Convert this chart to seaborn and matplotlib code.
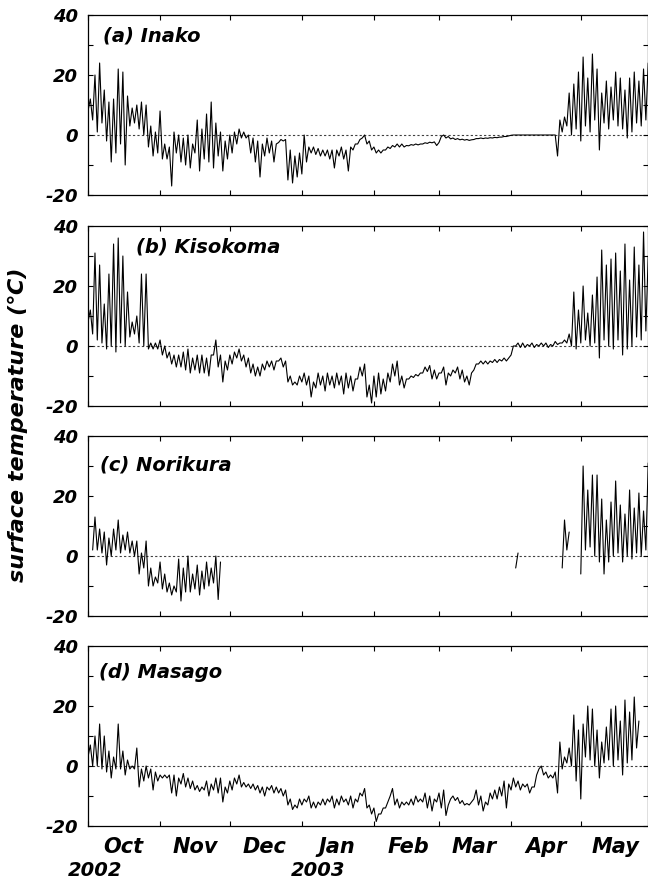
import numpy as np
import pandas as pd
import matplotlib
matplotlib.use("Agg")
import matplotlib.pyplot as plt
import matplotlib.dates as mdates
import matplotlib.transforms as mtrans
from matplotlib.ticker import NullFormatter
import seaborn as sns

nan = float("nan")

# one (high, low) pair every two days, starting 1 Oct 2002
start = pd.Timestamp("2002-10-01")
step_days = 2

inako_hi = [12, 20, 24, 15, 11, 12, 22, 21, 13, 9, 10, 11, 10, 3, 1, 8, -3, -4, 1, 0,
            -1, 0, -3, 5, 2, 7, 11, 4, 1, -2, 0, 1, 2, 1, 0, -1, -2, -3, -1, -2,
            -3, -1.5, -1.5, -5, -7, -6, 0, -4, -4, -4.5, -5, -5, -5, -5, -4, -5, -4, -3, -1.5, 0,
            -2, -4, -5, -5, -4, -3.5, -3, -3, -3.5, -3.2, -3, -3, -2.6, -2.4, -2.3, -2.5, 0, -0.5, -1, -1.2,
            -1.4, -1.5, -1.6, -1.2, -1, -1, -0.9, -0.8, -0.7, -0.5, -0.3, 0, 0, 0, 0, 0, 0, 0, 0, 0,
            0, 5, 6, 14, 17, 21, 26, 19, 27, 22, 14, 18, 16, 21, 19, 15, 19, 21, 18, 22, 24]
inako_lo = [8, 5, 1, 4, -2, -9, -6, -3, -10, 3, 4, 2, 0, -4, -7, -6, -8, -8, -17, -6,
            -9, -10, -11, -6, -12, -8, -9, -11, -7, -12, -8, -6, -3, -1, -1, -6, -9, -14, -7, -6,
            -9, -2.5, -2, -15, -16, -14, -13, -9, -6, -6.5, -7, -7, -8, -11, -7, -8, -12, -5, -3, -1,
            -3, -5, -6, -6, -5, -4.5, -4, -4, -4, -3.6, -3.4, -3.3, -3, -2.8, -2.6, -3.5, -0.5, -1, -1.3, -1.5,
            -1.6, -1.7, -1.8, -1.5, -1.2, -1.2, -1.1, -1, -0.9, -0.7, -0.5, -0.1, 0, 0, 0, 0, 0, 0, 0, 0,
            0, -7, 1, 3, 0, 2, -2, 3, 1, 5, -5, 4, 2, 5, 3, 2, -1, 1, 4, 3, 5]

kisokoma_hi = [12, 31, 27, 14, 24, 34, 36, 30, 18, 8, 10, 24, 24, 1, 1, 2, 0, -2, -3, -3,
               -2, -1, -4, -3, -3, -4, -3, 2, -3, -5, -3, -2, -1, -3, -4, -6, -7, -6, -5, -5,
               -5, -4, -5, -10, -12, -10, -9, -10, -12, -9, -10, -9, -10, -9, -10, -9, -10, -11, -7, -6,
               -13, -10, -9, -11, -9, -6, -5, -10, -11, -10, -9.5, -9, -7, -6.5, -8, -9, -7, -9, -8, -7,
               -8, -10, -9, -6, -5, -5, -5, -4.5, -4.5, -4, -4, 0, 1, 1, 0.5, 1, 0.5, 1, 1, 0.5,
               1.5, 1, 2, 4, 18, 12, 20, 11, 17, 23, 32, 27, 29, 31, 25, 34, 22, 33, 27, 38, 30]
kisokoma_lo = [8, 4, 2, 1, -1, 0, -2, 1, 0, 3, 4, 1, 0, -1, -1, -1, -3, -4, -6, -7,
               -7, -8, -9, -8, -9, -9, -10, -3, -7, -12, -8, -6, -4, -5, -7, -9, -10, -10, -8, -7,
               -8, -5, -7, -12, -13, -13, -12, -13, -17, -14, -13, -15, -13, -14, -13, -16, -14, -15, -11, -10,
               -17, -19, -17, -16, -15, -12, -10, -13, -14, -11, -10.5, -10, -9, -8.5, -11, -11, -9, -13, -10, -9,
               -11, -12, -13, -8, -6, -6, -6, -5.5, -5.5, -5, -5, -3, 0, -0.5, -0.5, 0, -0.5, 0, 0, -0.5,
               0, 0.5, 1, 1, 0, -1, 1, 2, 0, 1, -4, 2, 0, -1, 2, -3, -1, 0, 3, 2, 5]

norikura_hi = [nan, 13, 9, 8, 6, 9, 12, 7, 8, 5, 5, 1, 5, -4, -7, -2, -6, -9, -10, -1,
               -4, 0, -6, -3, -5, -2, -4, 0, -2, nan, nan, nan, nan, nan, nan, nan, nan, nan, nan, nan,
               nan, nan, nan, nan, nan, nan, nan, nan, nan, nan, nan, nan, nan, nan, nan, nan, nan, nan, nan, nan,
               nan, nan, nan, nan, nan, nan, nan, nan, nan, nan, nan, nan, nan, nan, nan, nan, nan, nan, nan, nan,
               nan, nan, nan, nan, nan, nan, nan, nan, nan, nan, nan, nan, 1, nan, nan, nan, nan, nan, nan, nan,
               nan, nan, 12, 8, nan, nan, 30, 22, 27, 27, 19, 12, 18, 25, 17, 14, 22, 16, 21, 15, 31]
norikura_lo = [nan, 2, 2, 1, -3, 0, 2, 1, 2, 1, 0, -6, -4, -10, -10, -9, -11, -12, -13, -12,
               -15, -12, -12, -11, -13, -11, -10, -9, -14.5, nan, nan, nan, nan, nan, nan, nan, nan, nan, nan, nan,
               nan, nan, nan, nan, nan, nan, nan, nan, nan, nan, nan, nan, nan, nan, nan, nan, nan, nan, nan, nan,
               nan, nan, nan, nan, nan, nan, nan, nan, nan, nan, nan, nan, nan, nan, nan, nan, nan, nan, nan, nan,
               nan, nan, nan, nan, nan, nan, nan, nan, nan, nan, nan, nan, -4, nan, nan, nan, nan, nan, nan, nan,
               nan, nan, -4, 2, nan, nan, -6, 2, 3, 0, -2, -6, -2, 0, 1, -2, 0, -1, 1, 0, 2]

masago_hi = [7, 10, 14, 10, 5, 3, 14, 5, 2, 0, 6, -1, 0, -1, -2, -3, -3, -3, -3, -4,
             -2.5, -4, -5, -6.5, -7, -5, -6, -4, -4, -7, -5, -4, -3, -5.5, -6, -6, -6.5, -7, -7, -6.5,
             -7, -7.5, -8, -11, -13, -11, -11, -10, -12, -12, -11, -11, -10, -11, -10, -11, -10, -11, -9, -7.5,
             -13, -14, -16, -14, -12, -7.5, -11, -12, -12, -11, -10, -11, -9, -10, -11, -9, -8, -13, -10, -10.5,
             -11.5, -12.5, -12, -8, -10, -12, -9, -8, -7, -5, -6, -4, -5, -6, -6, -7, -3, 0, -2, -3,
             -2, 8, 3, 6, 17, 12, 14, 20, 19, 12, 8, 13, 19, 20, 15, 22, 18, 23, 15, nan, nan]
masago_lo = [3, 0, 0, -1, -2, -4, -1, -1, -3, -1, -1, -7, -5, -4, -8, -5, -4, -4, -9, -10,
             -6, -7, -7.5, -8, -8.5, -8, -10, -8, -9, -12, -9, -8, -6, -7, -7, -7.5, -8, -9, -10, -8,
             -9, -9, -10, -13, -14.5, -14, -13, -12, -14, -14, -13, -13, -12, -14, -13, -12, -13, -14, -12, -10,
             -14, -16, -18.5, -16, -14, -10, -13, -14, -13, -13, -13, -12, -12, -14, -15, -12, -14, -16.5, -11, -11.5,
             -12.5, -13, -13, -11, -13, -15, -13, -11, -11, -10, -14, -8, -7, -8, -7, -9, -7, -1, -3, -4,
             -4, -9, -1, 1, 0, -5, -11, 3, 2, 0, -4, 1, 2, 0, 2, -3, 1, 2, 6, nan, nan]

panel_titles = ["(a) Inako", "(b) Kisokoma", "(c) Norikura", "(d) Masago"]
panel_data = [(inako_hi, inako_lo), (kisokoma_hi, kisokoma_lo),
              (norikura_hi, norikura_lo), (masago_hi, masago_lo)]
title_pos = [(0.027, 0.885), (0.086, 0.885), (0.022, 0.84), (0.02, 0.85)]


def zigzag(hi, lo):
    # low at the start of each step, high one day later
    rows = []
    for i, (h, l) in enumerate(zip(hi, lo)):
        d = i * step_days
        rows.append((d, l))
        rows.append((d + 1, h))
    df = pd.DataFrame(rows, columns=["day", "temp"])
    df["seg"] = df["temp"].isna().cumsum()
    df = df.dropna()
    df["time"] = start + pd.to_timedelta(df["day"], unit="D")
    return df


sns.set_style("ticks")
plt.rcParams["font.family"] = ["DejaVu Sans"]
plt.rcParams["font.weight"] = "bold"
plt.rcParams["font.style"] = "italic"
plt.rcParams["axes.unicode_minus"] = False
plt.rcParams["text.color"] = "black"
plt.rcParams["xtick.color"] = "black"
plt.rcParams["ytick.color"] = "black"
plt.rcParams["axes.edgecolor"] = "black"

fig = plt.figure(figsize=(6.48, 8.81), dpi=100)
W, H = 648.0, 881.0
left, right = 88 / W, 647.5 / W
tops = [15, 226, 436, 646]
ph = 180

x_end = start + pd.Timedelta(days=240.7)

axes = []
for k, (title, (hi, lo)) in enumerate(zip(panel_titles, panel_data)):
    ax = fig.add_axes([left, 1 - (tops[k] + ph) / H, right - left, ph / H])
    axes.append(ax)
    df = zigzag(hi, lo)
    sns.lineplot(data=df, x="time", y="temp", units="seg", estimator=None, sort=False,
                 color="black", linewidth=0.8, ax=ax)
    ax.axhline(0, color="0.25", linestyle=(0, (2, 2)), linewidth=0.8, zorder=0)
    ax.set_xlim(start, x_end)
    ax.set_ylim(-20, 40)
    ax.set_yticks([-20, 0, 20, 40])
    ax.set_yticks([-10, 10, 30], minor=True)
    ax.xaxis.set_major_locator(mdates.MonthLocator())
    ax.xaxis.set_major_formatter(NullFormatter())
    ax.tick_params(which="both", direction="in", top=True, right=True, length=3.5, width=0.8)
    ax.tick_params(axis="y", labelsize=13, pad=7)
    ax.set_xlabel("")
    ax.set_ylabel("")
    for s in ax.spines.values():
        s.set_linewidth(0.9)
        s.set_color("black")
    ax.text(title_pos[k][0], title_pos[k][1], title, transform=ax.transAxes,
            fontsize=14, va="center", ha="left")

# month names centred on each month in the bottom panel
ax = axes[-1]
ax.xaxis.set_minor_locator(mdates.MonthLocator(bymonthday=16))
ax.xaxis.set_minor_formatter(mdates.DateFormatter("%b"))
ax.tick_params(axis="x", which="minor", length=0, labelsize=15, pad=8)
trans = mtrans.blended_transform_factory(ax.transData, ax.transAxes)
ax.text(mdates.date2num(pd.Timestamp("2002-10-04")), -0.245, "2002", transform=trans,
        fontsize=14, ha="center", va="center")
ax.text(mdates.date2num(pd.Timestamp("2003-01-08")), -0.245, "2003", transform=trans,
        fontsize=14, ha="center", va="center")

fig.text(18 / W, 1 - 425 / H, "surface temperature (\u2103)", rotation=90,
         ha="center", va="center", fontsize=16)

fig.savefig("out.png", dpi=100)
